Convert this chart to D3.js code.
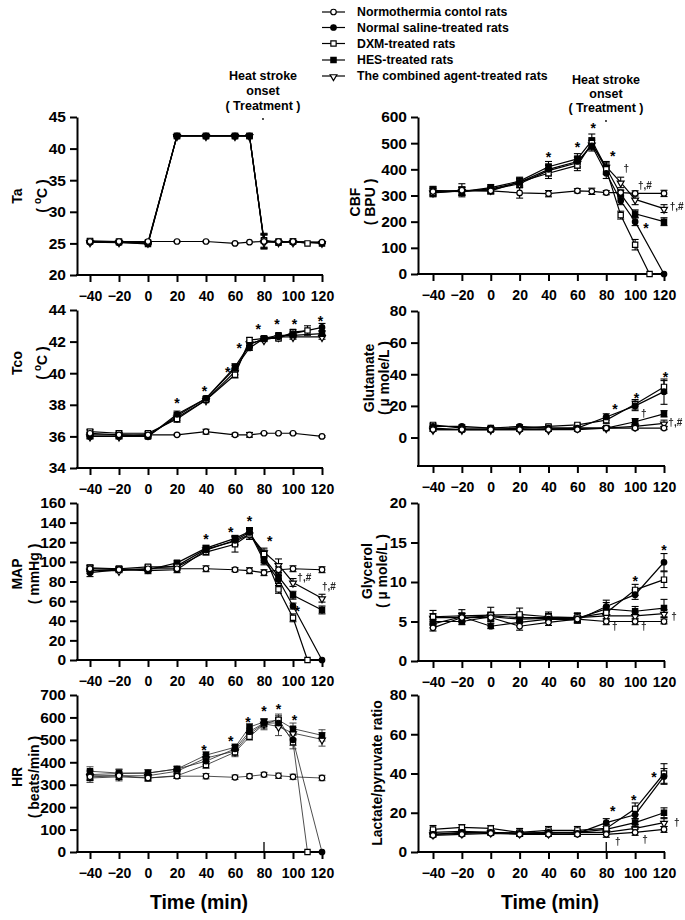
<!DOCTYPE html>
<html><head><meta charset="utf-8">
<script src="https://cdn.jsdelivr.net/npm/d3@7"></script>
<style>
body{margin:0;background:#fff}
svg{display:block}
text{font-family:"Liberation Sans",Arial,sans-serif;font-weight:bold}
</style>
</head><body>
<svg id="c" width="685" height="920"></svg>
<script>
// ---------- DATA ----------
const seriesNames = ["Normothermia contol rats","Normal saline-treated rats","DXM-treated rats","HES-treated rats","The combined agent-treated rats"];
const seriesMarkers = ["openCircle","filledCircle","openSquare","filledSquare","openTriangle"];
const xTickValues = [-40,-20,0,20,40,60,80,100,120];
const timesFull = [-40,-20,0,20,40,60,70,80,90,100,120];
const timesDXM  = [-40,-20,0,20,40,60,70,80,90,100,110];
const times20   = [-40,-20,0,20,40,60,80,100,120];

// Ta (ambient temperature, °C)  order: control, saline, DXM, HES, combined
const taVals = [
  [25.3,25.3,25.3,25.3,25.3,25.0,25.2,25.3,25.3,25.3,25.2],
  [25.2,25.1,25.0,42,42,42,42,25.3,25.2,25.2,25.1],
  [25.4,25.3,25.2,42,42,42,42,25.5,25.1,25.3,25.0],
  [25.3,25.2,24.9,42,42,42,42,25.4,25.3,25.3,25.0],
  [25.2,25.2,25.1,42,42,42,42,25.2,25.2,25.2,25.1]];
const taErr = [
  [0.1,0.1,0.1,0.1,0.1,0.1,0.1,0.1,0.1,0.1,0.1],
  [0.1,0.1,0.1,0.1,0.1,0.1,0.1,1.1,0.1,0.1,0.1],
  [0.1,0.1,0.1,0.1,0.1,0.1,0.1,1.1,0.1,0.1,0.1],
  [0.1,0.1,0.1,0.1,0.1,0.1,0.1,1.1,0.1,0.1,0.1],
  [0.1,0.1,0.1,0.1,0.1,0.1,0.1,1.1,0.1,0.1,0.1]];

// Tco (core temperature, °C)
const tcoVals = [
  [36.2,36.1,36.1,36.1,36.3,36.1,36.1,36.2,36.2,36.2,36.0],
  [36.0,36.0,36.0,37.4,38.4,40.3,41.6,42.2,42.3,42.5,42.9],
  [36.3,36.2,36.2,37.1,38.3,39.9,42.1,42.2,42.2,42.6,42.7],
  [36.1,36.1,36.0,37.3,38.4,40.4,41.8,42.2,42.4,42.4,42.5],
  [36.0,36.0,36.1,37.2,38.3,40.1,41.9,42.1,42.3,42.3,42.3]];
const tcoErr = [
  [0.2,0.15,0.1,0.05,0.15,0.1,0.15,0.05,0.05,0.05,0.05],
  [0.15,0.15,0.1,0.2,0.1,0.2,0.15,0.1,0.1,0.15,0.25],
  [0.15,0.15,0.1,0.2,0.1,0.2,0.15,0.1,0.1,0.15,0.3],
  [0.15,0.15,0.1,0.2,0.1,0.2,0.15,0.1,0.1,0.15,0.2],
  [0.15,0.15,0.1,0.2,0.1,0.2,0.15,0.1,0.1,0.15,0.15]];
const tcoStars = [[20,38.3],[39,39.1],[55,40.3],[63,41.8],[76,43.0],[89,43.3],[101,43.3],[119,43.5]];

// MAP (mmHg)
const mapVals = [
  [93,92,93,93,93,92,91,89,92,93,92],
  [89,92,91,92,112,122,130,101,82,55,0],
  [94,93,95,95,110,118,128,108,72,43,0],
  [93,93,92,99,114,124,131,104,85,66,51],
  [91,91,93,96,113,121,128,110,97,79,63]];
const mapErr = [
  [3,2,2,2,3,2,3,3,3,3,3],
  [4,2,3,3,3,4,4,4,4,3,0],
  [3,2,2,2,3,8,5,4,4,4,0],
  [3,2,2,2,3,3,4,5,4,4,4],
  [3,2,3,3,3,4,5,4,6,4,4]];
const mapStars = [[40,127],[57,134],[70,145],[84,124],[103,53]];
const mapDaggers = [[103,84,"\u2020,#"],[120,74,"\u2020,#"]];

// HR (beats/min)
const hrVals = [
  [335,340,330,338,338,333,338,345,340,335,330],
  [345,350,352,370,405,460,537,575,575,500,0],
  [330,335,330,340,388,445,514,570,590,490,0],
  [360,352,352,370,432,467,557,580,588,550,520],
  [340,340,340,360,419,450,527,572,559,530,502]];
const hrErr = [
  [15,15,12,10,12,10,10,10,12,12,12],
  [20,18,15,12,15,15,15,15,20,25,0],
  [20,18,15,12,15,15,15,25,25,30,0],
  [20,18,15,12,15,15,15,15,20,25,25],
  [20,18,15,12,15,25,15,20,40,25,30]];
const hrStars = [[38.6,468],[57,508],[69,593],[80,642],[90,651],[101,602]];

// CBF (BPU)
const cbfVals = [
  [315,320,318,310,307,318,316,311,311,308,308],
  [320,315,325,350,400,430,490,385,280,200,0],
  [310,318,318,352,385,415,500,400,225,112,0],
  [318,315,330,355,410,440,510,405,305,230,200],
  [312,318,322,345,395,425,495,410,350,285,250]];
const cbfErr = [
  [15,25,12,20,12,8,12,8,10,10,12],
  [15,15,12,15,20,20,20,20,15,15,0],
  [15,15,12,15,20,20,20,20,15,20,0],
  [15,15,12,15,20,20,25,20,15,15,15],
  [15,15,12,15,20,20,20,20,20,20,15]];
const cbfStars = [[40,459],[60,497],[71,569],[84.5,462],[107.5,187]];
const cbfDaggers = [[92,401,"\u2020"],[102,336,"\u2020,#"],[124,256,"\u2020,#"]];

// Glutamate (µmole/L)
const gluVals = [
  [5,5,5,5,5,5,6,6,6],
  [7,7,6,7,6,6,13,20,29],
  [8,6,6,6,7,8,11,21,32],
  [6,5,5,6,6,6,6,10,15],
  [5,5,5,5,5,6,6,7,9]];
const gluErr = [
  [1,1,1,1,1,1,1,1,1],
  [1,1,1,1,1,1,2,3,8],
  [1,1,1,1,1,1,2,3,4],
  [1,1,1,1,1,1,1,2,2],
  [1,1,1,1,1,1,1,2,2]];
const gluStars = [[86,20],[101,27],[121,40]];
const gluDaggers = [[104,15,"\u2020"],[123,9,"\u2020,#"]];

// Glycerol (µmole/L)
const glyVals = [
  [4.2,5.5,5.5,4.4,4.9,5.3,5.0,5.0,5.0],
  [4.7,5.6,4.4,4.9,5.3,5.2,6.9,8.4,12.5],
  [5.6,5.7,5.8,5.9,5.6,5.5,6.1,9.0,10.3],
  [5.0,5.0,5.6,5.3,5.4,5.4,6.6,6.3,6.7],
  [5.5,5.5,5.7,5.5,5.5,5.5,5.7,5.7,6.0]];
const glyErr = [
  [0.4,0.5,0.5,0.5,0.4,0.4,0.4,0.4,0.3],
  [0.5,0.5,0.3,0.5,0.4,0.4,0.8,0.6,1.1],
  [0.8,0.8,1.0,0.8,0.6,0.6,0.8,0.7,1.0],
  [0.5,0.4,0.5,0.5,0.5,0.6,0.8,0.6,1.1],
  [0.5,0.5,0.5,0.5,0.5,0.5,0.6,0.5,0.5]];
const glyStars = [[100,10.5],[120,14.4]];
const glyDaggers = [[84,4.3,"\u2020"],[104,4.3,"\u2020"],[125,5.6,"\u2020"]];

// Lactate/pyruvate ratio
const lacVals = [
  [8.5,9,9.5,9,9,9,9,10,11.5],
  [9,10,10,9.5,10,9.5,15,19,38.5],
  [11.5,12.5,12,10,11,11,12,22,40],
  [10,10.5,10,9.5,10,10,11.5,15,20],
  [9,9.5,10,9.5,9.5,10,10,12,15]];
const lacErr = [
  [1,1,1,1,1,1,1.5,1.5,1.5],
  [1,1,1,1,1,1,2,2,4],
  [2,1.5,1.5,2,2,2,2,3,5],
  [1,1,1,1,1,1,1.5,2,2.5],
  [1,1,1,1,1,1,1,2,2]];
const lacStars = [[84.5,22.4],[99,28],[113,39.7]];
const lacDaggers = [[86,5,"\u2020"],[105,6,"\u2020"],[127,15,"\u2020"]];

// ---------- LAYOUT ----------
const svg = d3.select("#c");
const FONT = '"Liberation Sans",Arial,sans-serif';
svg.append("defs").append("filter").attr("id", "gray")
  .append("feColorMatrix").attr("type", "saturate").attr("values", 0);
const cols = [
  {axisX:77, range:[90,322], timeLabelX:199},
  {axisX:418, range:[433,664], timeLabelX:550}
];
const longTimes = [timesFull,timesFull,timesDXM,timesFull,timesFull];
const shortTimes = [times20,times20,times20,times20,times20];

const panels = [
  {col:0, top:117, bottom:275, domain:[20,45], ticks:[20,25,30,35,40,45], vals:taVals, errs:taErr, times:longTimes,
   label:["Ta","degC"], labelX:[17,42], labelY:196, stars:[], daggers:[]},
  {col:0, top:310, bottom:468, domain:[34,44], ticks:[34,36,38,40,42,44], vals:tcoVals, errs:tcoErr, times:longTimes,
   label:["Tco","degC"], labelX:[17,42], labelY:363, stars:tcoStars, daggers:[]},
  {col:0, top:503, bottom:660, domain:[0,160], ticks:d3.range(0,161,20), vals:mapVals, errs:mapErr, times:longTimes,
   label:["MAP","( mmHg )"], labelX:[17,34], labelY:574, stars:mapStars, daggers:mapDaggers},
  {col:0, top:695, bottom:852, domain:[0,700], ticks:d3.range(0,701,100), vals:hrVals, errs:hrErr, times:longTimes,
   label:["HR","( beats/min )"], labelX:[17,34], labelY:777, stars:hrStars, daggers:[], thin:true, onset:true},
  {col:1, top:117, bottom:274, domain:[0,600], ticks:d3.range(0,601,100), vals:cbfVals, errs:cbfErr, times:longTimes,
   label:["CBF","( BPU )"], labelX:[355,370], labelY:202, stars:cbfStars, daggers:cbfDaggers},
  {col:1, top:311, bottom:466, domain:[-18,80], ticks:[0,20,40,60,80], vals:gluVals, errs:gluErr, times:shortTimes,
   label:["Glutamate","( \u00b5 mole/L )"], labelX:[369,384], labelY:378, stars:gluStars, daggers:gluDaggers},
  {col:1, top:503, bottom:661, domain:[0,20], ticks:[0,5,10,15,20], vals:glyVals, errs:glyErr, times:shortTimes,
   label:["Glycerol","( \u00b5 mole/L )"], labelX:[367,382], labelY:571, stars:glyStars, daggers:glyDaggers},
  {col:1, top:695, bottom:852, domain:[0,80], ticks:[0,20,40,60,80], vals:lacVals, errs:lacErr, times:shortTimes,
   label:["Lactate/pyruvate ratio"], labelX:[377], labelY:773, stars:lacStars, daggers:lacDaggers, onset:true}
];

const symSize = {openCircle:24, filledCircle:24, openSquare:28, filledSquare:28, openTriangle:20};
function drawMarker(g, type, cx, cy){
  let sym;
  if (type.endsWith("Circle")) sym = d3.symbolCircle;
  else if (type.endsWith("Square")) sym = d3.symbolSquare;
  else sym = d3.symbolTriangle;
  const filled = type.startsWith("filled");
  g.append("path")
    .attr("d", d3.symbol().type(sym).size(symSize[type])())
    .attr("transform", `translate(${cx},${cy})` + (type==="openTriangle" ? " rotate(180) translate(0,-0.7)" : ""))
    .attr("fill", filled ? "#000" : "#fff")
    .attr("stroke", "#000")
    .attr("stroke-width", 1.2);
}

panels.forEach(p => {
  const c = cols[p.col];
  const x = d3.scaleLinear().domain([-40,120]).range(c.range);
  const y = d3.scaleLinear().domain(p.domain).range([p.bottom, p.top]);
  const g = svg.append("g");

  // y axis
  const ya = g.append("g").attr("transform", `translate(${c.axisX},0)`)
    .call(d3.axisLeft(y).tickValues(p.ticks).tickSize(7).tickSizeOuter(0).tickPadding(4));
  ya.select(".domain").attr("stroke-width", 2);
  ya.selectAll(".tick line").attr("stroke-width", 2);
  ya.selectAll("text").attr("font-family", FONT).attr("font-weight", "bold").attr("font-size", 15.5).attr("fill", "#000");

  // x axis
  const xa = g.append("g").attr("transform", `translate(0,${p.bottom})`)
    .call(d3.axisBottom(x).tickValues(xTickValues).tickSize(7).tickPadding(9));
  xa.select(".domain").remove();
  xa.selectAll(".tick line").attr("stroke-width", 2);
  xa.selectAll("text").attr("font-family", FONT).attr("font-weight", "bold").attr("font-size", 14).attr("fill", "#000");
  g.append("line").attr("x1", c.axisX - 1).attr("x2", x(120) + 1)
    .attr("y1", p.bottom).attr("y2", p.bottom).attr("stroke", "#000").attr("stroke-width", 2);

  if (p.onset){
    g.append("line").attr("x1", x(80)).attr("x2", x(80)).attr("y1", p.bottom).attr("y2", p.bottom - 10)
      .attr("stroke", "#000").attr("stroke-width", 1.3);
  }

  // y label
  p.label.forEach((t, i) => {
    const tx = g.append("text")
      .attr("transform", `translate(${p.labelX[i]},${p.labelY}) rotate(-90)`)
      .attr("text-anchor", "middle").attr("dominant-baseline", "central")
      .attr("font-size", 14).attr("fill", "#000");
    if (t === "degC"){
      tx.append("tspan").text("( ");
      tx.append("tspan").text("o").attr("font-size", 10).attr("dy", -5);
      tx.append("tspan").text("C").attr("dy", 5);
      tx.append("tspan").text(" )");
    } else tx.text(t);
  });

  const lw = p.thin ? 0.8 : 1.2;
  const lc = p.thin ? "#222" : "#000";
  const order = [4,3,2,1,0];
  // lines
  order.forEach(si => {
    const pts = p.times[si].map((t, k) => [t, p.vals[si][k], p.errs[si][k]]);
    g.append("path").datum(pts)
      .attr("d", d3.line().x(d => x(d[0])).y(d => y(d[1])))
      .attr("fill", "none").attr("stroke", lc).attr("stroke-width", lw);
  });
  // error bars
  order.forEach(si => {
    p.times[si].forEach((t, k) => {
      const v = p.vals[si][k], e = p.errs[si][k];
      if (!e) return;
      const cx = x(t);
      const eb = g.append("g").attr("stroke", p.thin ? "#333" : "#000").attr("stroke-width", p.thin ? 0.9 : 1.1);
      eb.append("line").attr("x1", cx).attr("x2", cx).attr("y1", y(v - e)).attr("y2", y(v + e));
      eb.append("line").attr("x1", cx - 3.5).attr("x2", cx + 3.5).attr("y1", y(v + e)).attr("y2", y(v + e));
      eb.append("line").attr("x1", cx - 3.5).attr("x2", cx + 3.5).attr("y1", y(v - e)).attr("y2", y(v - e));
    });
  });
  // markers
  order.forEach(si => {
    p.times[si].forEach((t, k) => drawMarker(g, seriesMarkers[si], x(t), y(p.vals[si][k])));
  });

  // significance marks
  p.stars.forEach(s => {
    g.append("text").attr("x", x(s[0])).attr("y", y(s[1])).attr("dy", "0.58em")
      .attr("text-anchor", "middle").attr("font-size", 14).attr("fill", "#000").text("*");
  });
  const dg = g.append("g").attr("filter", "url(#gray)");
  p.daggers.forEach(s => {
    dg.append("text").attr("x", x(s[0])).attr("y", y(s[1])).attr("dy", "0.3em")
      .attr("text-anchor", "start").attr("font-size", 10).attr("font-weight", "normal")
      .attr("font-family", FONT).attr("fill", "#222").text(s[2]);
  });
});

// Heat stroke onset headers
const headerLines = ["Heat stroke", "onset", "( Treatment )"];
[{x: 263, ys:[76,91,106], dotY:119}, {x: 606, ys:[80,94,108], dotY:121}].forEach(h => {
  headerLines.forEach((t, i) => {
    svg.append("text").attr("x", h.x).attr("y", h.ys[i]).attr("dominant-baseline", "central")
      .attr("text-anchor", "middle").attr("font-size", 12.5).attr("fill", "#000").text(t);
  });
  svg.append("circle").attr("cx", h.x).attr("cy", h.dotY).attr("r", 0.9).attr("fill", "#000");
});

// Time axis titles
cols.forEach(c => {
  svg.append("text").attr("x", c.timeLabelX).attr("y", 902).attr("dominant-baseline", "central")
    .attr("text-anchor", "middle").attr("font-size", 19.5).attr("fill", "#000").text("Time (min)");
});

// Legend
const legendY = [12, 27.5, 43.5, 60, 76];
seriesNames.forEach((name, i) => {
  const lg = svg.append("g");
  lg.append("line").attr("x1", 322).attr("x2", 345).attr("y1", legendY[i]).attr("y2", legendY[i])
    .attr("stroke", "#000").attr("stroke-width", 1.2);
  drawMarker(lg, seriesMarkers[i], 333.5, legendY[i]);
  lg.append("text").attr("x", 357).attr("y", legendY[i]).attr("dominant-baseline", "central")
    .attr("font-size", 12.3).attr("fill", "#000").text(name);
});
</script>
</body></html>
